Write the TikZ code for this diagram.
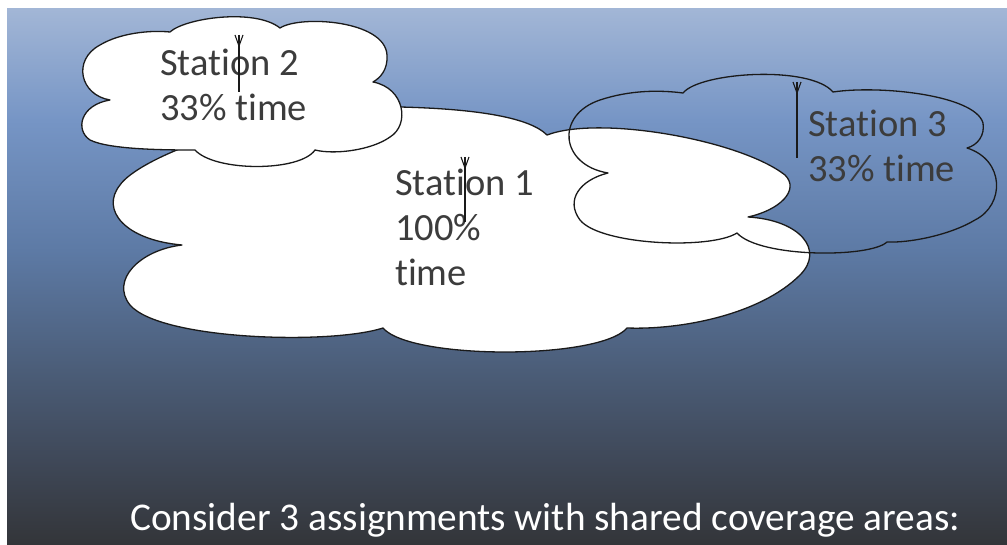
\documentclass[tikz,border=0pt]{standalone}
\usepackage{fontspec}
\setmainfont[Ligatures=NoCommon]{Carlito}
\definecolor{bgA}{HTML}{A2B6D6}
\definecolor{bgB}{HTML}{7695C5}
\definecolor{bgC}{HTML}{5D7AA5}
\definecolor{bgD}{HTML}{4B5D78}
\definecolor{bgE}{HTML}{3F4858}
\definecolor{bgF}{HTML}{333539}
\definecolor{textgray}{HTML}{3C3C3C}
\definecolor{edge}{HTML}{1A1A1A}
\begin{document}
\begin{tikzpicture}[x=1pt,y=-1pt,
  cloudline/.style={draw=edge, line width=1.3pt, line join=round},
  stationlabel/.style={font=\fontsize{38.5}{45}\selectfont, text=textgray, anchor=base west, inner sep=0pt},
  antenna/.style={draw=edge, line width=1.1pt}]

\useasboundingbox (0,0) rectangle (1007,545);
\fill[white] (0,0) rectangle (1007,545);

% background: piecewise vertical gradient
\shade[top color=bgA, bottom color=bgB] (7,9) rectangle (1007,120.6);
\shade[top color=bgB, bottom color=bgC] (7,120) rectangle (1007,250.6);
\shade[top color=bgC, bottom color=bgD] (7,250) rectangle (1007,370.6);
\shade[top color=bgD, bottom color=bgE] (7,370) rectangle (1007,460.6);
\shade[top color=bgE, bottom color=bgF] (7,460) rectangle (1007,545);

% Station 1 coverage (large cloud)
\path[cloudline, fill=white]
  (182,245) .. controls (125,240) and (100,210) .. (120,185)
  .. controls (137,160) and (250,110) .. (400,107)
  .. controls (480,109) and (530,118) .. (547,135)
  .. controls (600,115) and (740,140) .. (785,175)
  .. controls (800,190) and (780,210) .. (748,217)
  .. controls (800,220) and (825,250) .. (800,275)
  .. controls (760,315) and (680,330) .. (627,328)
  .. controls (600,360) and (410,360) .. (383,328)
  .. controls (330,345) and (160,340) .. (130,305)
  .. controls (110,280) and (140,250) .. (182,245) -- cycle;

% Station 3 coverage (outline only)
\path[cloudline]
  (608,173) .. controls (560,165) and (555,115) .. (600,100)
  .. controls (630,90) and (660,90) .. (683,93)
  .. controls (700,72) and (810,65) .. (833,92)
  .. controls (880,85) and (975,95) .. (983,123)
  .. controls (985,135) and (978,145) .. (967,148)
  .. controls (1005,160) and (1005,205) .. (975,220)
  .. controls (950,235) and (910,243) .. (887,242)
  .. controls (870,258) and (760,258) .. (737,233)
  .. controls (710,250) and (600,245) .. (580,220)
  .. controls (565,200) and (580,180) .. (608,173) -- cycle;

% Station 2 coverage
\path[cloudline, fill=white]
  (110,100) .. controls (80,95) and (72,60) .. (100,45)
  .. controls (120,33) and (150,30) .. (170,32)
  .. controls (185,18) and (255,8) .. (280,28)
  .. controls (300,15) and (385,20) .. (387,55)
  .. controls (388,70) and (380,78) .. (373,82)
  .. controls (405,88) and (410,125) .. (390,137)
  .. controls (372,150) and (335,155) .. (315,150)
  .. controls (300,172) and (215,172) .. (195,150)
  .. controls (170,150) and (110,150) .. (90,140)
  .. controls (75,130) and (80,105) .. (110,100) -- cycle;

% labels
\node[stationlabel] (s2a) at (160,76) {Station 2};
\node[stationlabel] (s2b) at (160,121) {33\% time};
\node[stationlabel] (s1a) at (395,196) {Station 1};
\node[stationlabel] (s1b) at (395,241) {100\%};
\node[stationlabel] (s1c) at (395,286) {time};
\node[stationlabel] (s3a) at (808,137) {Station 3};
\node[stationlabel] (s3b) at (808,182) {33\% time};

% antennas
\draw[antenna] (239,35) -- (239,92);
\draw[antenna] (235,35) -- (239,46) -- (243,35);
\draw[antenna] (465,157) -- (465,222);
\draw[antenna] (461,157) -- (465,168) -- (469,157);
\draw[antenna] (797,82) -- (797,158);
\draw[antenna] (793,82) -- (797,93) -- (801,82);

% caption
\node[font=\fontsize{39.3}{46}\selectfont, text=white, anchor=base west, inner sep=0pt] (caption) at (130,530) {Consider 3 assignments with shared coverage areas:};
\end{tikzpicture}
\end{document}
